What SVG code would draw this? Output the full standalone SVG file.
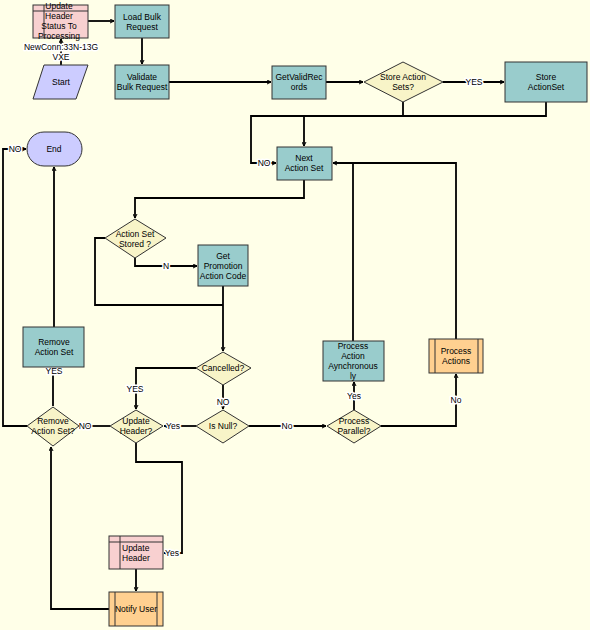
<svg xmlns="http://www.w3.org/2000/svg" width="590" height="630" viewBox="0 0 590 630">
<defs>
<style>
text{font-family:"Liberation Sans",Arial,sans-serif;font-size:8.5px;fill:#000;text-anchor:middle}
.lbl{paint-order:stroke;stroke:#fff;stroke-width:3px;stroke-linejoin:round}
.task{fill:#99CCCC;stroke:#333;stroke-width:1}
.pink{fill:#F8D0D0;stroke:#333;stroke-width:1}
.sub{fill:#FFD090;stroke:#333;stroke-width:1}
.dec{fill:#F8F4C8;stroke:#333;stroke-width:1}
.term{fill:#CCCCFF;stroke:#333;stroke-width:1}
.in{fill:none;stroke:#333;stroke-width:1}
.c{fill:none;stroke:#000;stroke-width:1.8}
.ca{fill:none;stroke:#000;stroke-width:1.8;marker-end:url(#ah)}
</style>
<marker id="ah" viewBox="0 0 10 10" refX="9" refY="5" markerWidth="5" markerHeight="5" orient="auto" markerUnits="userSpaceOnUse">
<path d="M1,1 L9,5 L1,9" fill="none" stroke="#000" stroke-width="2"/>
</marker>
</defs>
<rect x="0" y="0" width="590" height="630" fill="#FFFFE8"/>

<g id="connectors">
<path class="ca" d="M88,21 H114"/>
<path class="ca" d="M142,38 V64"/>
<path class="ca" d="M61,65 V39"/>
<path class="ca" d="M169,82 H271"/>
<path class="ca" d="M326,82 H363"/>
<path class="ca" d="M443,82 H504"/>
<path class="ca" d="M403,102 V116 H251 V163 H276"/>
<path class="ca" d="M546,102 V116 H304 V146"/>
<path class="ca" d="M304,180 V198 H135 V218"/>
<path class="ca" d="M135,258 V266 H197"/>
<path class="c" d="M105,238 H95 V305 H223"/>
<path class="ca" d="M223,286 V351"/>
<path class="ca" d="M196,368 H136 V409"/>
<path class="ca" d="M223,385 V409"/>
<path class="ca" d="M196,426 H164"/>
<path class="ca" d="M249,426 H326"/>
<path class="c" d="M110,426 H79"/>
<path class="ca" d="M27,426 H3 V149 H26"/>
<path class="c" d="M53,406 V367"/>
<path class="ca" d="M54,327 V167"/>
<path class="ca" d="M136,443 V462 H182 V553 H164"/>
<path class="ca" d="M136,569 V591"/>
<path class="ca" d="M109,609 H51 V447"/>
<path class="ca" d="M354,410 V382"/>
<path class="c" d="M353,341 V163"/>
<path class="ca" d="M381,426 H456 V374"/>
<path class="ca" d="M456,339 V163 H333"/>
<text class="lbl" x="61" y="50">NewConn:33N-13G</text>
<text class="lbl" x="61" y="60">VXE</text>
<text class="lbl" x="474" y="85">YES</text>
<text class="lbl" x="264" y="166">NO</text>
<text class="lbl" x="166" y="269">N</text>
<text class="lbl" x="135" y="392">YES</text>
<text class="lbl" x="223" y="405">NO</text>
<text class="lbl" x="173" y="429">Yes</text>
<text class="lbl" x="287" y="429">No</text>
<text class="lbl" x="85" y="429">NO</text>
<text class="lbl" x="15" y="152">NO</text>
<text class="lbl" x="54" y="374">YES</text>
<text class="lbl" x="172" y="556">Yes</text>
<text class="lbl" x="354" y="399">Yes</text>
<text class="lbl" x="456" y="403">No</text>
</g>

<g id="updateHeaderStatus">
<rect class="pink" x="33" y="5" width="55" height="33"/>
<path class="in" d="M33,11 H88 M44,5 V38"/>
<text x="59" y="9">Update</text>
<text x="59" y="19">Header</text>
<text x="59" y="29">Status To</text>
<text x="59" y="39">Processing</text>
</g>
<g id="loadBulkRequest">
<rect class="task" x="115" y="5" width="54" height="33"/>
<text x="142" y="20">Load Bulk</text>
<text x="142" y="30">Request</text>
</g>
<g id="start">
<polygon class="term" points="44,65 88,65 76,99 33,99"/>
<text x="61" y="85">Start</text>
</g>
<g id="validateBulkRequest">
<rect class="task" x="115" y="65" width="54" height="34"/>
<text x="142" y="80">Validate</text>
<text x="142" y="90">Bulk Request</text>
</g>
<g id="getValidRecords">
<rect class="task" x="272" y="66" width="54" height="33"/>
<text x="299" y="80">GetValidRec</text>
<text x="299" y="90">ords</text>
</g>
<g id="storeActionSets">
<polygon class="dec" points="364,82 403,62 443,82 403,102"/>
<text x="403" y="80">Store Action</text>
<text x="403" y="90">Sets?</text>
</g>
<g id="storeActionSet">
<rect class="task" x="505" y="62" width="82" height="40"/>
<text x="546" y="80">Store</text>
<text x="546" y="90">ActionSet</text>
</g>
<g id="nextActionSet">
<rect class="task" x="277" y="147" width="55" height="33"/>
<text x="304" y="161">Next</text>
<text x="304" y="171">Action Set</text>
</g>
<g id="end">
<rect class="term" x="27" y="132" width="55" height="34" rx="17"/>
<text x="54" y="152">End</text>
</g>
<g id="actionSetStored">
<polygon class="dec" points="105,238 135,219 166,238 135,258"/>
<text x="135" y="237">Action Set</text>
<text x="135" y="247">Stored ?</text>
</g>
<g id="getPromotionActionCode">
<rect class="task" x="198" y="245" width="50" height="41"/>
<text x="223" y="259">Get</text>
<text x="223" y="269">Promotion</text>
<text x="223" y="279">Action Code</text>
</g>
<g id="removeActionSet">
<rect class="task" x="23" y="327" width="61" height="40"/>
<text x="54" y="345">Remove</text>
<text x="54" y="355">Action Set</text>
</g>
<g id="cancelled">
<polygon class="dec" points="196,368 223,352 251,368 223,385"/>
<text x="223" y="371">Cancelled?</text>
</g>
<g id="removeActionSetQ">
<polygon class="dec" points="27,426 53,407 79,426 53,446"/>
<text x="53" y="424">Remove</text>
<text x="53" y="434">Action Set?</text>
</g>
<g id="updateHeaderQ">
<polygon class="dec" points="110,426 136,410 163,426 136,443"/>
<text x="136" y="424">Update</text>
<text x="136" y="434">Header?</text>
</g>
<g id="isNull">
<polygon class="dec" points="196,426 223,410 249,426 223,443"/>
<text x="223" y="429">Is Null?</text>
</g>
<g id="processParallel">
<polygon class="dec" points="327,426 354,410 381,426 354,443"/>
<text x="354" y="424">Process</text>
<text x="354" y="434">Parallel?</text>
</g>
<g id="processActionAsynchronously">
<rect class="task" x="323" y="341" width="61" height="40"/>
<text x="353" y="349">Process</text>
<text x="353" y="359">Action</text>
<text x="353" y="369">Aynchronous</text>
<text x="353" y="379">ly</text>
</g>
<g id="processActions">
<rect class="sub" x="429" y="339" width="54" height="34"/>
<path class="in" d="M435,339 V373 M478,339 V373"/>
<text x="456" y="354">Process</text>
<text x="456" y="364">Actions</text>
</g>
<g id="updateHeader">
<rect class="pink" x="109" y="536" width="54" height="33"/>
<path class="in" d="M109,542 H163 M120,536 V569"/>
<text x="122" y="551" style="text-anchor:start">Update</text>
<text x="122" y="561" style="text-anchor:start">Header</text>
</g>
<g id="notifyUser">
<rect class="sub" x="109" y="592" width="54" height="34"/>
<path class="in" d="M115,592 V626 M157,592 V626"/>
<text x="136" y="612">Notify User</text>
</g>
</svg>
